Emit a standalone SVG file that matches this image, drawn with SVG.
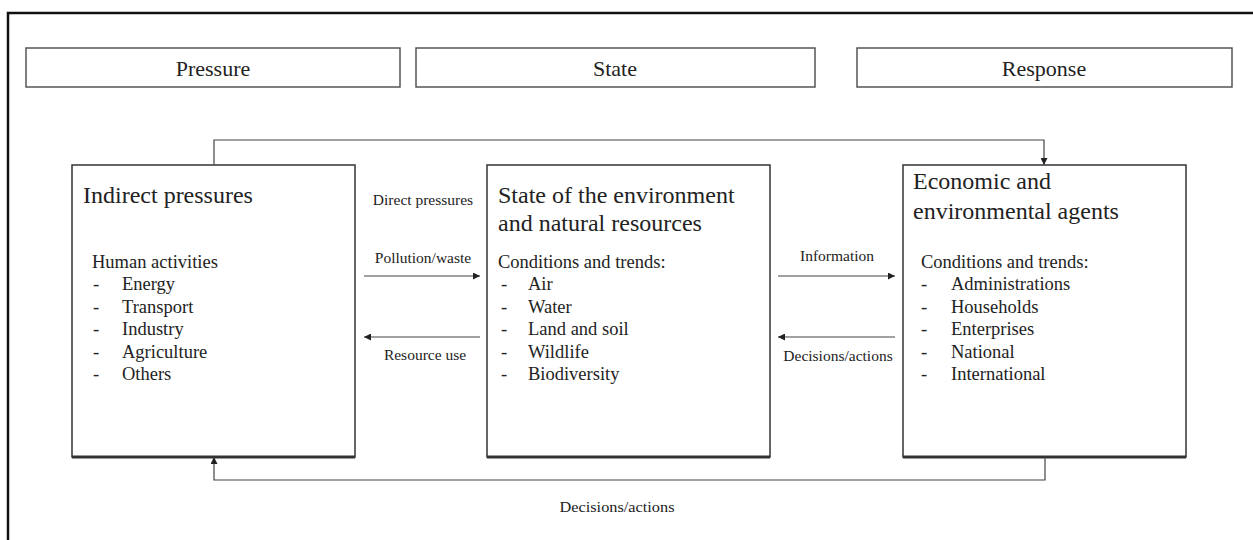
<svg xmlns="http://www.w3.org/2000/svg" width="1253" height="540" viewBox="0 0 1253 540">
<style>
text{font-family:"Liberation Serif","Times New Roman",serif;fill:#222}
.hdr{fill:#fff;stroke:#555;stroke-width:1.5}
.hdrt{font-size:22px;text-anchor:middle}
.box{fill:#fff;stroke:#333;stroke-width:1.5}
.shadow{stroke:#333;stroke-width:3;fill:none}
.title{font-size:24px}
.body{font-size:18.5px}
.lbl{font-size:15.5px;text-anchor:middle}
.conn{fill:none;stroke:#444;stroke-width:1.2}
</style>
<defs>
<marker id="ah" viewBox="0 0 10 10" refX="10" refY="5" markerWidth="9" markerHeight="7" markerUnits="userSpaceOnUse" orient="auto">
<path d="M0,0 L10,5 L0,10 z" fill="#222"/>
</marker>
</defs>
<rect x="0" y="0" width="1253" height="540" fill="#fff"/>
<g id="frame">
<path d="M8,540 V13 H1253" fill="none" stroke="#111" stroke-width="2.5"/>
</g>
<g id="hdr-pressure">
<rect class="hdr" x="26" y="48" width="374" height="39"/>
<text class="hdrt" x="213" y="76">Pressure</text>
</g>
<g id="hdr-state">
<rect class="hdr" x="416" y="48" width="399" height="39"/>
<text class="hdrt" x="615" y="76">State</text>
</g>
<g id="hdr-response">
<rect class="hdr" x="857" y="48" width="375" height="39"/>
<text class="hdrt" x="1044" y="76">Response</text>
</g>
<g id="node-pressures">
<rect class="box" x="72" y="165" width="283" height="292"/>
<line class="shadow" x1="72" y1="457" x2="355" y2="457"/>
<text class="title" x="83" y="203">Indirect pressures</text>
<text class="body" x="92" y="268">Human activities</text>
<text class="body" x="93" y="290">-</text><text class="body" x="122" y="290">Energy</text>
<text class="body" x="93" y="313">-</text><text class="body" x="122" y="313">Transport</text>
<text class="body" x="93" y="335">-</text><text class="body" x="122" y="335">Industry</text>
<text class="body" x="93" y="358">-</text><text class="body" x="122" y="358">Agriculture</text>
<text class="body" x="93" y="380">-</text><text class="body" x="122" y="380">Others</text>
</g>
<g id="node-state">
<rect class="box" x="487" y="165" width="283" height="292"/>
<line class="shadow" x1="487" y1="457" x2="770" y2="457"/>
<text class="title" x="498" y="203">State of the environment</text>
<text class="title" x="498" y="231">and natural resources</text>
<text class="body" x="498" y="268">Conditions and trends:</text>
<text class="body" x="501" y="290">-</text><text class="body" x="528" y="290">Air</text>
<text class="body" x="501" y="313">-</text><text class="body" x="528" y="313">Water</text>
<text class="body" x="501" y="335">-</text><text class="body" x="528" y="335">Land and soil</text>
<text class="body" x="501" y="358">-</text><text class="body" x="528" y="358">Wildlife</text>
<text class="body" x="501" y="380">-</text><text class="body" x="528" y="380">Biodiversity</text>
</g>
<g id="node-agents">
<rect class="box" x="903" y="165" width="283" height="292"/>
<line class="shadow" x1="903" y1="457" x2="1186" y2="457"/>
<text class="title" x="913" y="189">Economic and</text>
<text class="title" x="913" y="219">environmental agents</text>
<text class="body" x="921" y="268">Conditions and trends:</text>
<text class="body" x="921" y="290">-</text><text class="body" x="951" y="290">Administrations</text>
<text class="body" x="921" y="313">-</text><text class="body" x="951" y="313">Households</text>
<text class="body" x="921" y="335">-</text><text class="body" x="951" y="335">Enterprises</text>
<text class="body" x="921" y="358">-</text><text class="body" x="951" y="358">National</text>
<text class="body" x="921" y="380">-</text><text class="body" x="951" y="380">International</text>
</g>
<g id="connectors">
<path class="conn" d="M214,165 V140 H1044 V165" marker-end="url(#ah)"/>
<path class="conn" d="M1045,457 V480 H214 V457" marker-end="url(#ah)"/>
<line class="conn" x1="364" y1="276" x2="480" y2="276" marker-end="url(#ah)"/>
<line class="conn" x1="480" y1="337" x2="364" y2="337" marker-end="url(#ah)"/>
<line class="conn" x1="778" y1="276" x2="895" y2="276" marker-end="url(#ah)"/>
<line class="conn" x1="895" y1="337" x2="778" y2="337" marker-end="url(#ah)"/>
<text class="lbl" x="423" y="205">Direct pressures</text>
<text class="lbl" x="423" y="263">Pollution/waste</text>
<text class="lbl" x="425" y="360">Resource use</text>
<text class="lbl" x="837" y="261">Information</text>
<text class="lbl" x="838" y="361">Decisions/actions</text>
<text class="lbl" x="617" y="512" textLength="115" lengthAdjust="spacingAndGlyphs" style="font-size:14px">Decisions/actions</text>
</g>
</svg>
